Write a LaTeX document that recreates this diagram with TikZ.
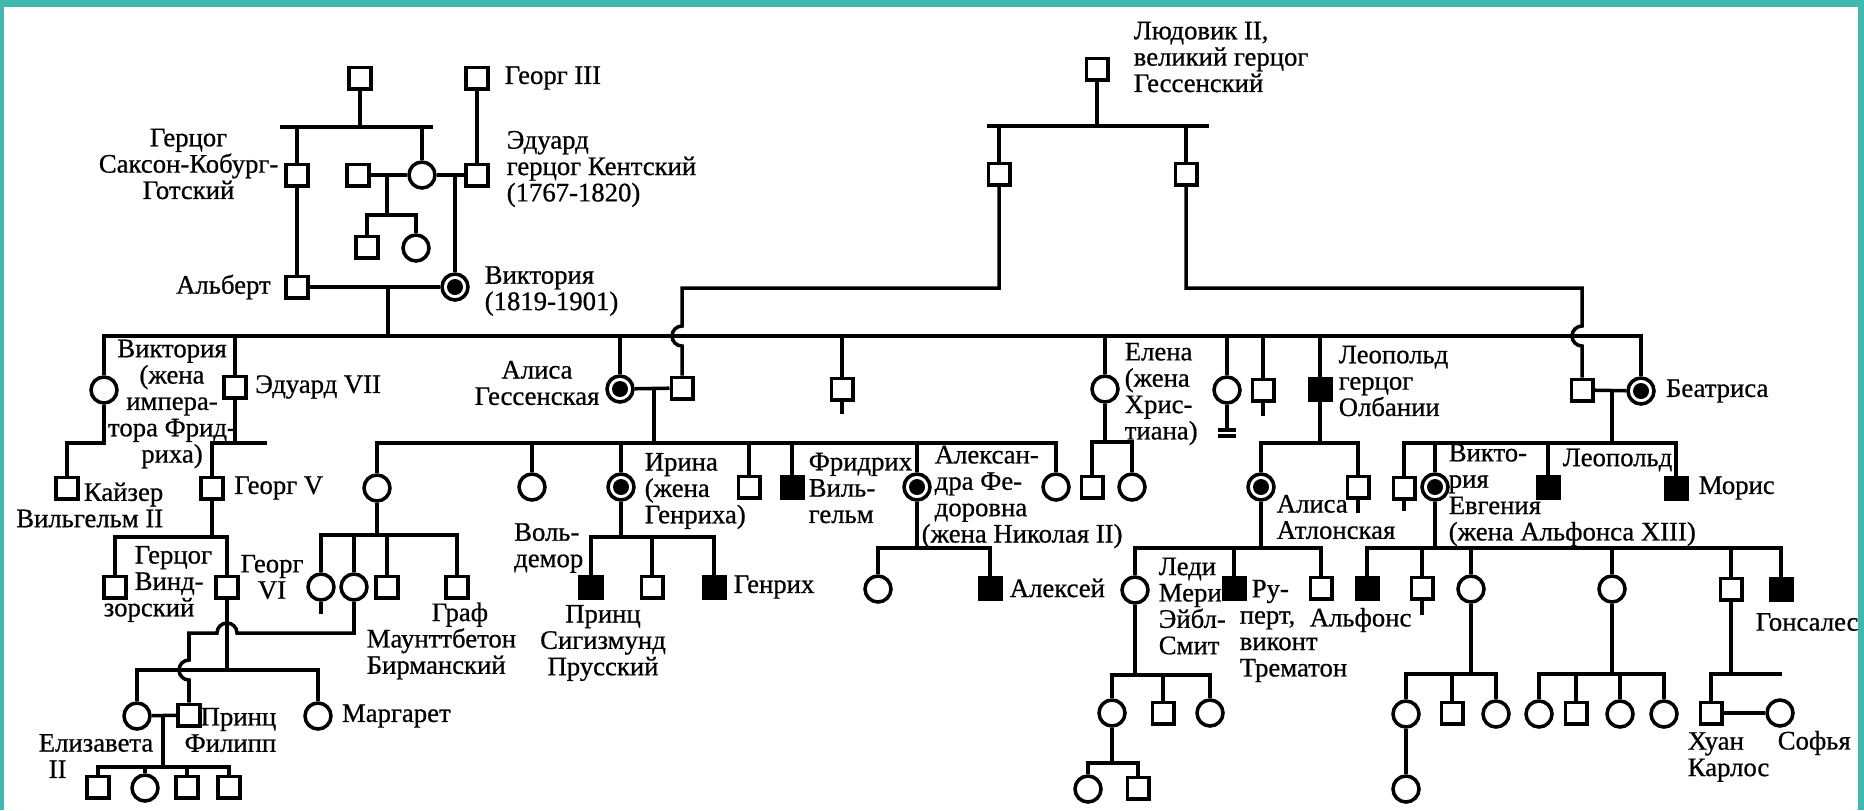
\documentclass[tikz,border=0pt]{standalone}
\usepackage{fontspec}
\setmainfont{Liberation Serif}
\newfontfamily\scanfont{Liberation Serif}[FakeBold=0.7]
\usetikzlibrary{positioning, calc}
\definecolor{tealframe}{RGB}{64,186,176}
\newcommand{\lblfont}{\scanfont\fontsize{15.2}{15}\selectfont}

\begin{document}
\begin{tikzpicture}[
    x=0.2mm, y=-0.2mm,
    line width=2pt,
    node distance=2mm,
    male/.style={rectangle, draw, line width=2pt, minimum size=4.3mm, inner sep=0pt},
    female/.style={circle, draw, line width=2pt, minimum size=5.2mm, inner sep=0pt},
    sick/.style={male, fill=black},
    carrier/.style={female, path picture={\fill (path picture bounding box.center) circle (1.6mm);}},
    lbl/.style={font=\lblfont, inner sep=0pt, align=left},
]

% === Frame ===
\useasboundingbox (0,0) rectangle (1864,810);
\fill[tealframe] (0,0) rectangle (1864,810);
\fill[white] (4,7) rectangle (1858,810);

% === Generation I ===
\node (coburg) [male] at (360,78) {};
\node (georgIII) [male] at (477,78) {};
\node (saxe) [male] at (297,175) {};
\node (leiningen) [male] at (358,175) {};
\node (vmother) [female] at (422,175) {};
\node (kent) [male] at (477,175) {};
\node (lein1) [male] at (367,247) {};
\node (lein2) [female] at (416,248) {};
\node (albert) [male] at (297,287) {};
\node (victoria) [carrier] at (455,287) {};

% Hesse
\node (ludwig) [male] at (1097,69) {};
\node (hesseA) [male] at (999,174) {};
\node (hesseB) [male] at (1186,174) {};

% === Children of Victoria ===
\node (vicR) [female] at (104,390) {};
\node (edward) [male] at (235,387) {};
\node (alice) [carrier] at (620,389) {};
\node (ludwigIV) [male] at (682,388) {};
\node (alfred) [male] at (842,389) {};
\node (helena) [female] at (1105,389) {};
\node (louise) [female] at (1227,390) {};
\node (arthur) [male] at (1263,390) {};
\node (leopold) [sick] at (1320,389) {};
\node (henryB) [male] at (1582,390) {};
\node (beatrice) [carrier] at (1641,391) {};

% === Grandchildren ===
\node (kaiser) [male] at (67,488) {};
\node (georgV) [male] at (212,488) {};
\node (vic_h) [female] at (377,488) {};
\node (ella) [female] at (532,487) {};
\node (irina) [carrier] at (621,487) {};
\node (ernst) [male] at (749,487) {};
\node (fritz) [sick] at (792,487) {};
\node (alix) [carrier] at (917,487) {};
\node (marie) [female] at (1056,487) {};
\node (hel_s) [male] at (1092,487) {};
\node (hel_d) [female] at (1132,487) {};
\node (alice_a) [carrier] at (1261,487) {};
\node (charles) [male] at (1358,487) {};
\node (bat_a) [male] at (1404,488) {};
\node (ena) [carrier] at (1435,487) {};
\node (leop_b) [sick] at (1548,487) {};
\node (maurice) [sick] at (1676,488) {};

% === Next generation ===
\node (windsor) [male] at (115,587) {};
\node (georgVI) [male] at (227,587) {};
\node (bat1) [female] at (321,587) {};
\node (bat2) [female] at (354,587) {};
\node (bat3) [male] at (387,587) {};
\node (mountb) [male] at (457,587) {};
\node (waldemar) [sick] at (591,587) {};
\node (sigism) [male] at (652,587) {};
\node (heinrich) [sick] at (714,587) {};
\node (alix_d) [female] at (878,589) {};
\node (alexei) [sick] at (990,588) {};
\node (mary) [female] at (1135,590) {};
\node (rupert) [sick] at (1234,588) {};
\node (athl_s) [male] at (1321,588) {};
\node (alfonso) [sick] at (1367,588) {};
\node (jaime) [male] at (1422,588) {};
\node (beatriz) [female] at (1471,589) {};
\node (crist) [female] at (1612,589) {};
\node (juan) [male] at (1731,589) {};
\node (gonzalo) [sick] at (1781,589) {};

\node (elizabeth) [female] at (137,716) {};
\node (philip) [male] at (189,715) {};
\node (margaret) [female] at (318,716) {};
\node (mary1) [female] at (1112,713) {};
\node (mary2) [male] at (1163,713) {};
\node (mary3) [female] at (1210,713) {};
\node (bz1) [female] at (1406,714) {};
\node (bz2) [male] at (1452,713) {};
\node (bz3) [female] at (1496,714) {};
\node (cr1) [female] at (1539,714) {};
\node (cr2) [male] at (1576,713) {};
\node (cr3) [female] at (1620,714) {};
\node (cr4) [female] at (1664,714) {};
\node (jcarlos) [male] at (1711,713) {};
\node (sofia) [female] at (1780,713) {};

\node (charlesW) [male] at (98,787) {};
\node (anne) [female] at (145,788) {};
\node (andrew) [male] at (187,787) {};
\node (edwardW) [male] at (229,787) {};
\node (m1a) [female] at (1088,789) {};
\node (m1b) [male] at (1138,788) {};
\node (bz1a) [female] at (1406,789) {};

% === Lines: generation I ===
\coordinate (s_cob) at (360,127);
\draw (coburg) -- (s_cob);
\draw ($(saxe |- s_cob)+(-17,0)$) -- ($(vmother |- s_cob)+(11,0)$);
\draw (saxe) -- (saxe |- s_cob);
\draw (vmother) -- (vmother |- s_cob);
\draw (georgIII) -- (kent);
\draw (saxe) -- (albert);
\draw (leiningen) -- (vmother) -- (kent);
\coordinate (s_lein) at (387,215);
\draw (s_lein |- leiningen) -- (s_lein);
\draw (lein1) |- (s_lein) -| (lein2);
\draw (victoria |- kent) -- (victoria);
\draw (albert) -- (victoria);

% Hesse
\coordinate (s_lud) at (1097,126);
\draw (ludwig) -- (s_lud);
\draw ($(hesseA |- s_lud)+(-12,0)$) -- ($(hesseB |- s_lud)+(23,0)$);
\draw (hesseA) -- (hesseA |- s_lud);
\draw (hesseB) -- (hesseB |- s_lud);

% === Lines: children of Victoria ===
\coordinate (s_vic) at (388,336);
\draw (s_vic |- albert) -- (s_vic);
\draw (vicR) |- (s_vic) -| (beatrice);
\draw (edward) -- (edward |- s_vic);
\draw (alice) -- (alice |- s_vic);
\draw (alfred) -- (alfred |- s_vic);
\draw (helena) -- (helena |- s_vic);
\draw (louise) -- (louise |- s_vic);
\draw (arthur) -- (arthur |- s_vic);
\draw (leopold) -- (leopold |- s_vic);

% sons of Ludwig, hopping over the line
\coordinate (hop_h) at (682,336);
\draw (hesseA) |- ($(hop_h)+(0,-48)$) -- ($(hop_h)+(0,-10)$) arc[start angle=270, end angle=90, radius=10] -- (ludwigIV);
\coordinate (hop_b) at (1582,336);
\draw (hesseB) |- ($(hop_b)+(0,-48)$) -- ($(hop_b)+(0,-10)$) arc[start angle=270, end angle=90, radius=10] -- (henryB);

% tails
\draw (alfred.south) -- ++(0,12);
\draw (arthur.south) -- ++(0,13);
\draw (louise.south) -- ++(0,24);
\draw ($(louise.south)+(-9,25)$) -- ++(18,0);
\draw ($(louise.south)+(-9,31)$) -- ++(18,0);

% === Victoria (Friedrich) and Edward VII ===
\coordinate (s_vicr) at (104,443);
\draw (vicR) -- (s_vicr) -| (kaiser);
\coordinate (s_edw) at (235,443);
\draw (edward) -- (s_edw);
\draw (georgV) |- ($(s_edw)+(32,0)$);
\coordinate (s_gV) at (212,537);
\draw (georgV) -- (s_gV);
\draw (windsor) |- (s_gV) -| (georgVI);
\coordinate (s_gVI) at (227,670);
\draw (georgVI) -- (s_gVI);
\draw (elizabeth) |- (s_gVI) -| (margaret);

% Philip, hopping twice
\coordinate (hop_p1) at (227,633);
\coordinate (hop_p2) at (189,670);
\draw (bat2) |- ($(hop_p1)+(10,0)$) arc[start angle=0, end angle=-180, radius=10] -| ($(hop_p2)+(0,-10)$) arc[start angle=270, end angle=90, radius=10] -- (philip);

\draw (elizabeth) -- (philip);
\coordinate (s_eliz) at (163,767);
\draw (s_eliz |- elizabeth) -- (s_eliz);
\draw (charlesW) |- (s_eliz) -| (edwardW);
\draw (anne) -- (anne |- s_eliz);
\draw (andrew) -- (andrew |- s_eliz);

% === Alice of Hesse ===
\draw (alice) -- (ludwigIV);
\coordinate (s_alice) at (654,443);
\draw (s_alice |- alice) -- (s_alice);
\draw (vic_h) |- (s_alice) -| (marie);
\draw (ella) -- (ella |- s_alice);
\draw (irina) -- (irina |- s_alice);
\draw (ernst) -- (ernst |- s_alice);
\draw (fritz) -- (fritz |- s_alice);
\draw (alix) -- (alix |- s_alice);

\coordinate (s_vich) at (377,535);
\draw (vic_h) -- (s_vich);
\draw (bat1) |- (s_vich) -| (mountb);
\draw (bat2) -- (bat2 |- s_vich);
\draw (bat3) -- (bat3 |- s_vich);
\draw (bat1.south) -- ++(0,12);

\coordinate (s_iri) at (621,537);
\draw (irina) -- (s_iri);
\draw (waldemar) |- (s_iri) -| (heinrich);
\draw (sigism) -- (sigism |- s_iri);

\coordinate (s_alix) at (917,548);
\draw (alix) -- (s_alix);
\draw (alix_d) |- (s_alix) -| (alexei);

% === Helena ===
\coordinate (s_hel) at (1105,442);
\draw (helena) -- (s_hel);
\draw (hel_s) |- (s_hel) -| (hel_d);

% === Leopold ===
\coordinate (s_leo) at (1320,443);
\draw (leopold) -- (s_leo);
\draw (alice_a) |- (s_leo) -| (charles);
\draw (charles.south) -- ++(0,13);

\coordinate (s_ath) at (1261,548);
\draw (alice_a) -- (s_ath);
\draw (mary) |- (s_ath) -| (athl_s);
\draw (rupert) -- (rupert |- s_ath);

\coordinate (s_mary) at (1135,675);
\draw (mary) -- (s_mary);
\draw (mary1) |- (s_mary) -| (mary3);
\draw (mary2) -- (mary2 |- s_mary);
\coordinate (s_m1) at (1112,763);
\draw (mary1) -- (s_m1);
\draw (m1a) |- (s_m1) -| (m1b);

% === Beatrice ===
\draw (henryB) -- (beatrice);
\coordinate (s_bea) at (1612,443);
\draw (s_bea |- beatrice) -- (s_bea);
\draw (bat_a) |- (s_bea) -| (maurice);
\draw (ena) -- (ena |- s_bea);
\draw (leop_b) -- (leop_b |- s_bea);
\draw (bat_a.south) -- ++(0,10);

\coordinate (s_ena) at (1435,548);
\draw (ena) -- (s_ena);
\draw (alfonso) |- (s_ena) -| (gonzalo);
\draw (jaime) -- (jaime |- s_ena);
\draw (beatriz) -- (beatriz |- s_ena);
\draw (crist) -- (crist |- s_ena);
\draw (juan) -- (juan |- s_ena);
\draw (jaime.south) -- ++(0,14);

\coordinate (s_bz) at (1471,674);
\draw (beatriz) -- (s_bz);
\draw (bz1) |- (s_bz) -| (bz3);
\draw (bz2) -- (bz2 |- s_bz);
\draw (bz1) -- (bz1a);

\coordinate (s_cr) at (1612,674);
\draw (crist) -- (s_cr);
\draw (cr1) |- (s_cr) -| (cr4);
\draw (cr2) -- (cr2 |- s_cr);
\draw (cr3) -- (cr3 |- s_cr);

\coordinate (s_juan) at (1731,674);
\draw (juan) -- (s_juan);
\draw (jcarlos) |- ($(s_juan)+(51,0)$);
\draw (jcarlos) -- (sofia);

% === Labels ===
\node (t_georgIII) [lbl, right=2.7mm of georgIII] {Георг III};
\node (t_kent) [lbl, anchor=west] at (505,169) {Эдуард\\герцог Кентский\\(1767-1820)};
\node (t_saxe) [lbl, align=center, anchor=east] at (280,164) {Герцог\\Саксон-Кобург-\\Готский};
\node (t_albert) [lbl, left=2.4mm of albert] {Альберт};
\node (t_victoria) [lbl, anchor=west] at (483,291) {Виктория\\(1819-1901)};
\node (t_ludwig) [lbl, anchor=west] at (1132,57) {Людовик II,\\великий герцог\\Гессенский};
\node (t_vicr) [lbl, align=center] at (172,404) {Виктория\\(жена\\импера-\\тора Фрид-\\риха)};
\node (t_edward) [lbl, right=1.2mm of edward] {Эдуард VII};
\node (t_kaiser) [lbl, align=right, anchor=east] at (165,505) {Кайзер\\Вильгельм II};
\node (t_georgV) [lbl, right=1.6mm of georgV] {Георг V};
\node (t_windsor) [lbl, anchor=west] at (133,584) {Герцог\\Винд-\\\hspace*{-6.2mm}зорский};
\node (t_georgVI) [lbl, align=center] at (272,577) {Георг\\VI};
\node (t_mountb) [lbl, anchor=west] at (365,641) {\hspace*{13mm}Граф\\Маунттбетон\\Бирманский};
\node (t_philip) [lbl, align=right, anchor=east] at (278,730) {Принц\\Филипп};
\node (t_margaret) [lbl, right=1.5mm of margaret] {Маргарет};
\node (t_eliz) [lbl, anchor=west] at (37,756) {Елизавета\\\hspace*{2mm}II};
\node (t_alice) [lbl, align=center] at (537,383) {Алиса\\Гессенская};
\node (t_irina) [lbl, anchor=west] at (643,491) {Ирина\\(жена\\Генриха)};
\node (t_fritz) [lbl, anchor=west] at (807,488) {Фридрих\\Виль-\\гельм};
\node (t_alix) [lbl, anchor=west] at (933,497) {Алексан-\\дра Фе-\\доровна\\\hspace*{-2.6mm}(жена Николая II)};
\node (t_waldemar) [lbl, anchor=east] at (585,548) {Воль-\\демор};
\node (t_sigism) [lbl, align=center] at (603,643) {Принц\\Сигизмунд\\Прусский};
\node (t_heinrich) [lbl, right=1.1mm of heinrich] {Генрих};
\node (t_alexei) [lbl, right=1.1mm of alexei] {Алексей};
\node (t_helena) [lbl, anchor=west] at (1123,394) {Елена\\(жена\\Хрис-\\тиана)};
\node (t_leopold) [lbl, anchor=west] at (1337,381) {Леопольд\\герцог\\Олбании};
\node (t_alice_a) [lbl, anchor=west] at (1275,517) {Алиса\\Атлонская};
\node (t_mary) [lbl, anchor=west] at (1157,606) {Леди\\Мери\\Эйбл-\\Смит};
\node (t_rupert) [lbl, anchor=west] at (1238,631) {\hspace*{2.4mm}Ру-\\перт,\\виконт\\Трематон};
\node (t_alfonso) [lbl, anchor=west] at (1308,620) {Альфонс};
\node (t_beatrice) [lbl, right=1.7mm of beatrice] {Беатриса};
\node (t_ena) [lbl, anchor=west] at (1447,495) {Викто-\\рия\\Евгения\\(жена Альфонса XIII)};
\node (t_leop_b) [lbl, anchor=west] at (1561,460) {Леопольд};
\node (t_maurice) [lbl, right=1.7mm of maurice] {Морис};
\node (t_gonzalo) [lbl, anchor=west] at (1754,622) {Гонсалес};
\node (t_jcarlos) [lbl, anchor=west] at (1686,757) {Хуан\\Карлос};
\node (t_sofia) [lbl, anchor=west] at (1776,743) {Софья};

\end{tikzpicture}
\end{document}
